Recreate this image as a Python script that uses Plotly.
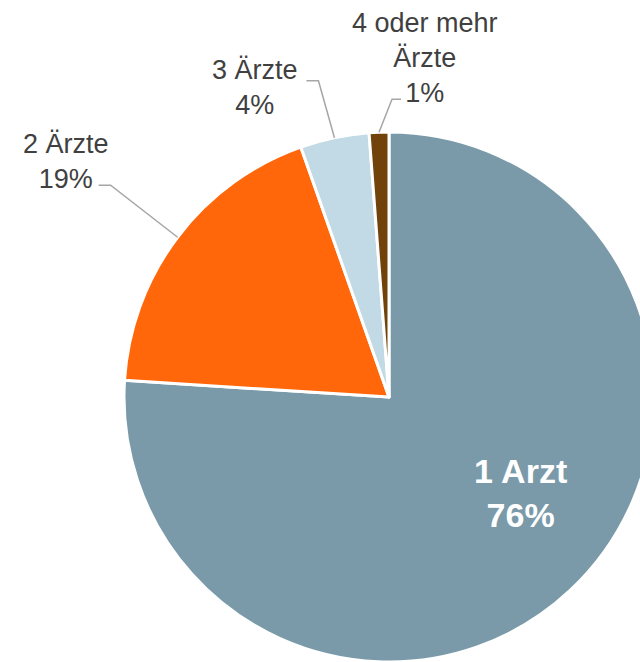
import math
import plotly.graph_objects as go

labels = ["1 Arzt", "2 Ärzte", "3 Ärzte", "4 oder mehr<br>Ärzte"]
values = [76.0, 18.6, 4.2, 1.2]
colors = ["#7A9AA9", "#FF670A", "#C2D9E6", "#71430B"]

# layout geometry (pixels)
W, H = 660, 662
ML, MR, MT, MB = 124, 6, 132, 0
PW, PH = W - ML - MR, H - MT - MB

# outside label placement: (label centre offset, elbow offset, end offset) in px from slice edge
placement = {
    1: ((-112, -76), (-67, -52), (-79, -52)),
    2: ((-79, -50), (-16, -57), (-28, -57)),
    3: ((46, -74), (13, -33), (22, -33)),
}
# inside label placement: offset in px from pie centre
inside_offset = {0: (131, 96)}

fig = go.Figure()
fig.add_trace(go.Pie(
    labels=labels,
    values=values,
    sort=False,
    direction="clockwise",
    rotation=0,
    marker=dict(colors=colors, line=dict(color="white", width=3)),
    textinfo="none",
    hoverinfo="label+percent",
    showlegend=False,
    domain=dict(x=[0, 1], y=[0, 1]),
))

total = sum(values)
cum = 0.0
shapes = []
annotations = []
for i, v in enumerate(values):
    mid = (cum + v / 2) / total * 2 * math.pi
    cum += v
    pct = round(v / total * 100)
    if i in inside_offset:
        dx, dy = inside_offset[i]
        annotations.append(dict(
            xref="paper", yref="paper", x=0.5 + dx / PW, y=0.5 - dy / PH,
            xanchor="center", yanchor="middle",
            text=f"<b>{labels[i]}<br>{pct}%</b>", showarrow=False,
            font=dict(size=34, color="white", family="Liberation Sans, Arial"),
        ))
        continue
    ex = 0.5 + 0.5 * math.sin(mid) * (min(PW, PH) / PW)
    ey = 0.5 + 0.5 * math.cos(mid) * (min(PW, PH) / PH)
    (lx, ly), (bx, by), (nx, ny) = placement[i]

    def px(dx, dy):
        return ex + dx / PW, ey - dy / PH

    b = px(bx, by)
    n = px(nx, ny)
    shapes.append(dict(
        type="path", xref="paper", yref="paper",
        path=f"M {ex},{ey} L {b[0]},{b[1]} L {n[0]},{n[1]}",
        line=dict(color="#A6A6A6", width=1.5),
    ))
    l = px(lx, ly)
    annotations.append(dict(
        xref="paper", yref="paper", x=l[0], y=l[1],
        xanchor="center", yanchor="middle",
        text=f"{labels[i]}<br>{pct}%", showarrow=False,
        font=dict(size=27, color="#404040", family="Liberation Sans, Arial"),
    ))

fig.update_layout(
    width=W, height=H,
    margin=dict(l=ML, r=MR, t=MT, b=MB),
    paper_bgcolor="white",
    plot_bgcolor="white",
    shapes=shapes,
    annotations=annotations,
)

fig.write_html(
    "out.html",
    config={"displayModeBar": False},
    post_script="document.body.style.margin='0';document.body.style.overflow='hidden';document.documentElement.style.overflow='hidden';",
)
